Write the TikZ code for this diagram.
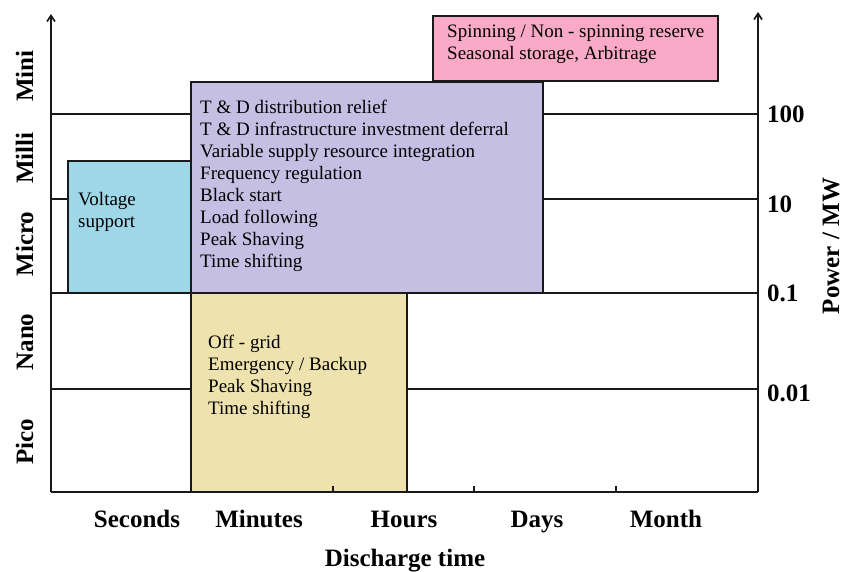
\documentclass[tikz,border=0pt]{standalone}
\usepackage{fontspec}
\setmainfont{Liberation Serif}
\usetikzlibrary{arrows.meta}
\definecolor{bluefill}{RGB}{158,216,232}
\definecolor{purplefill}{RGB}{198,191,228}
\definecolor{yellowfill}{RGB}{238,226,174}
\definecolor{pinkfill}{RGB}{250,170,198}
\definecolor{edge}{RGB}{25,25,25}
\begin{document}
\begin{tikzpicture}[x=1pt,y=-1pt,
  gridline/.style={line width=1.7pt, edge},
  axisline/.style={line width=1.7pt, edge},
  box/.style={draw=edge, line width=1.7pt, inner sep=0pt, outer sep=0pt, anchor=north west},
  itext/.style={font=\fontsize{19}{22}\selectfont, inner sep=0pt, anchor=base west},
  blab/.style={font=\fontsize{25}{28}\selectfont\bfseries, inner sep=0pt, anchor=base},
  vlab/.style={font=\fontsize{25}{28}\selectfont\bfseries, inner sep=0pt, anchor=base, rotate=90},
  rlab/.style={font=\fontsize{25}{28}\selectfont\bfseries, inner sep=0pt, anchor=base west}]
\useasboundingbox[fill=white] (0,0) rectangle (844,571);
% coordinates
\coordinate (lb) at (51,492);
\coordinate (lt) at (51,14);
\coordinate (rb) at (758,492);
\coordinate (rt) at (758,12);
\foreach \y/\n in {114/a,199/b,293/c,389/d}{
  \coordinate (gl\n) at (51,\y);
  \coordinate (gr\n) at (758,\y);
  \draw[gridline] (gl\n) -- (gr\n);
}
% boxes
\node[box, fill=pinkfill, minimum width=285pt, minimum height=65pt] (pink) at (433,16) {};
\node[box, fill=purplefill, minimum width=352pt, minimum height=211pt] (purple) at (191,82) {};
\node[box, fill=bluefill, minimum width=123pt, minimum height=132pt] (blue) at (68,161) {};
\node[box, fill=yellowfill, minimum width=216pt, minimum height=199pt] (yellow) at (191,293) {};
% axes
\draw[axisline, -{Straight Barb[length=6pt,width=8pt]}] (lb) -- (lt);
\draw[axisline, -{Straight Barb[length=6pt,width=8pt]}] (rb) -- (rt);
\draw[axisline] (lb) -- (rb);
\foreach \x/\n in {333/a,474/b,616/c}{
  \coordinate (tb\n) at (\x,492);
  \coordinate (tt\n) at (\x,486);
  \draw[axisline] (tb\n) -- (tt\n);
}
% box texts
\foreach \t [count=\i] in {T \& D distribution relief, T \& D infrastructure investment deferral, Variable supply resource integration, Frequency regulation, Black start, Load following, Peak Shaving, Time shifting}
  \node[itext] (pt\i) at (200,{113+22*(\i-1)}) {\t};
\foreach \t [count=\i] in {Voltage, support}
  \node[itext] (bt\i) at (78,{205+22*(\i-1)}) {\t};
\foreach \t [count=\i] in {Off - grid, Emergency / Backup, Peak Shaving, Time shifting}
  \node[itext] (yt\i) at (208,{348+22*(\i-1)}) {\t};
\foreach \t [count=\i] in {Spinning / Non - spinning reserve, {Seasonal storage, Arbitrage}}
  \node[itext] (kt\i) at (447,{37+22*(\i-1)}) {\t};
% left labels
\node[vlab] (mini) at (33,76) {Mini};
\node[vlab] (milli) at (33,158) {Milli};
\node[vlab] (micro) at (33,244) {Micro};
\node[vlab] (nano) at (33,342) {Nano};
\node[vlab] (pico) at (33,442) {Pico};
% right labels
\node[rlab] (r100) at (767,122) {100};
\node[rlab] (r10) at (767,212) {10};
\node[rlab] (r01) at (767,301) {0.1};
\node[rlab] (r001) at (767,401) {0.01};
\node[vlab] (power) at (839,246) {Power / MW};
% bottom labels
\node[blab] (sec) at (137,527) {Seconds};
\node[blab] (min) at (259,527) {Minutes};
\node[blab] (hrs) at (404,527) {Hours};
\node[blab] (days) at (537,527) {Days};
\node[blab] (mon) at (666,527) {Month};
\node[blab] (dis) at (405,566) {Discharge time};
\end{tikzpicture}
\end{document}
